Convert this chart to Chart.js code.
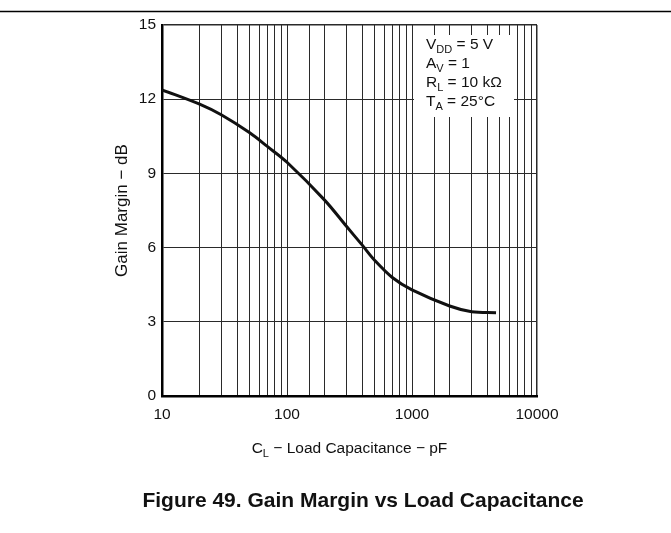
<!DOCTYPE html>
<html>
<head>
<meta charset="utf-8">
<script src="https://cdn.jsdelivr.net/npm/chart.js@4.4.1/dist/chart.umd.min.js"></script>
<style>
  html, body { margin: 0; padding: 0; background: #fff; }
  #chart { display: block; }
</style>
</head>
<body>
<canvas id="chart" width="671" height="533"></canvas>
<script>
// load capacitance (pF) and gain margin (dB)
const capacitance = [10, 20, 30, 50, 70, 100, 200, 300, 400, 500, 700, 1000, 2000, 3000, 4700];
const gainMargin = [12.38, 11.8, 11.36, 10.65, 10.08, 9.45, 7.92, 6.85, 6.1, 5.5, 4.78, 4.29, 3.64, 3.41, 3.37];

const xTickLabels = [10, 100, 1000, 10000];
const yTicks = [0, 3, 6, 9, 12, 15];

// conditions box: [main text, subscript, rest]
const conditions = [
  ["V", "DD", " = 5 V"],
  ["A", "V", " = 1"],
  ["R", "L", " = 10 kΩ"],
  ["T", "A", " = 25°C"],
];
const caption = "Figure 49. Gain Margin vs Load Capacitance";

const FONT = "'Liberation Sans', Arial, Helvetica, sans-serif";
const INK = "#111";

// draws text pieces with a subscript in the middle, returns end x
function drawSub(ctx, x, y, parts, size) {
  const [main, sub, rest] = parts;
  ctx.font = `${size}px ${FONT}`;
  ctx.fillText(main, x, y);
  x += ctx.measureText(main).width;
  ctx.font = `${Math.round(size * 0.72)}px ${FONT}`;
  ctx.fillText(sub, x, y + size * 0.28);
  x += ctx.measureText(sub).width;
  ctx.font = `${size}px ${FONT}`;
  ctx.fillText(rest, x, y);
  return x + ctx.measureText(rest).width;
}

function subWidth(ctx, parts, size) {
  const [main, sub, rest] = parts;
  ctx.font = `${size}px ${FONT}`;
  let w = ctx.measureText(main).width + ctx.measureText(rest).width;
  ctx.font = `${Math.round(size * 0.72)}px ${FONT}`;
  return w + ctx.measureText(sub).width;
}

const decorations = {
  id: "decorations",
  beforeDatasetsDraw(chart) {
    const { ctx } = chart;
    ctx.save();
    // blank area behind the conditions text
    ctx.fillStyle = "#fff";
    ctx.fillRect(414, 35, 100, 82);
    ctx.fillStyle = INK;
    ctx.textBaseline = "alphabetic";
    ctx.textAlign = "left";
    conditions.forEach((c, i) => drawSub(ctx, 426, 48.5 + i * 19.2, c, 15.5));
    ctx.restore();
  },
  afterDraw(chart) {
    const { ctx, chartArea } = chart;
    ctx.save();
    // rule across the top of the page
    ctx.strokeStyle = "#000";
    ctx.lineWidth = 1.5;
    ctx.beginPath();
    ctx.moveTo(0, 11.5);
    ctx.lineTo(671, 11.5);
    ctx.stroke();

    ctx.fillStyle = INK;
    ctx.textBaseline = "alphabetic";
    ctx.textAlign = "left";

    // x axis title with subscript
    const xParts = ["C", "L", " − Load Capacitance − pF"];
    const cx = (chartArea.left + chartArea.right) / 2;
    drawSub(ctx, cx - subWidth(ctx, xParts, 15.5) / 2, 453, xParts, 15.5);

    // y axis title
    ctx.save();
    ctx.translate(127, (chartArea.top + chartArea.bottom) / 2);
    ctx.rotate(-Math.PI / 2);
    ctx.textAlign = "center";
    ctx.font = `17px ${FONT}`;
    ctx.fillText("Gain Margin − dB", 0, 0);
    ctx.restore();

    // figure caption
    ctx.textAlign = "center";
    ctx.font = `bold 21px ${FONT}`;
    ctx.fillText(caption, 363, 507);
    ctx.restore();
  },
};

new Chart(document.getElementById("chart"), {
  type: "line",
  data: {
    datasets: [
      {
        label: "Gain Margin",
        data: capacitance.map((c, i) => ({ x: c, y: gainMargin[i] })),
        borderColor: INK,
        borderWidth: 3,
        pointRadius: 0,
        tension: 0.35,
        fill: false,
      },
    ],
  },
  options: {
    responsive: false,
    animation: false,
    events: [],
    layout: { padding: { left: 0, top: 25, right: 134, bottom: 97 } },
    plugins: {
      legend: { display: false },
      tooltip: { enabled: false },
      title: { display: false },
    },
    scales: {
      x: {
        type: "logarithmic",
        min: 10,
        max: 10000,
        afterFit: (scale) => { scale.height = 40; },
        grid: {
          color: "#2a2a2a",
          lineWidth: (c) => (c.tick && c.tick.value === 10000 ? 1.5 : 1),
          drawTicks: false,
        },
        border: { color: "#000", width: 2.5 },
        ticks: {
          autoSkip: false,
          maxRotation: 0,
          padding: 9,
          color: INK,
          font: { family: FONT, size: 15.5 },
          callback: (v) => (xTickLabels.includes(v) ? String(v) : ""),
        },
      },
      y: {
        min: yTicks[0],
        max: yTicks[yTicks.length - 1],
        afterFit: (scale) => { scale.width = 162; },
        afterBuildTicks: (scale) => { scale.ticks = yTicks.map((v) => ({ value: v })); },
        grid: {
          color: "#2a2a2a",
          lineWidth: (c) => (c.tick && c.tick.value === 15 ? 1.5 : 1),
          drawTicks: false,
        },
        border: { color: "#000", width: 2.5 },
        ticks: {
          padding: 6,
          color: INK,
          font: { family: FONT, size: 15.5 },
        },
      },
    },
  },
  plugins: [decorations],
});
</script>
</body>
</html>
